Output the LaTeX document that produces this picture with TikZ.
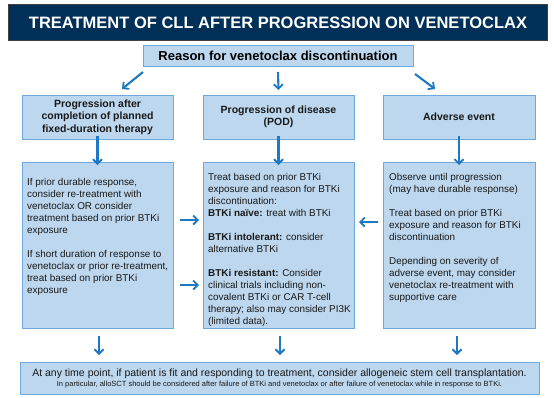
\documentclass[tikz,border=0pt]{standalone}
\usepackage{fontspec}
\setmainfont{Liberation Sans}
\usetikzlibrary{arrows.meta,calc}
\definecolor{boxfill}{HTML}{BDD7EE}
\definecolor{boxline}{HTML}{6FA8DC}
\definecolor{arrowc}{HTML}{1F78C1}
\definecolor{navy}{HTML}{003057}
\tikzset{
  box/.style={draw=boxline, fill=boxfill, line width=1pt, anchor=north west, inner sep=0pt, outer sep=0pt},
  arr/.style={draw=arrowc, line width=2.1pt, -{Straight Barb[length=4.5pt,width=9pt,line width=1.8pt]}},
  bodytext/.style={anchor=north west, inner sep=0pt, align=left, font=\fontsize{9.9}{12}\selectfont, text=black!90},
  headtext/.style={inner sep=0pt, align=center, font=\bfseries\fontsize{10.5}{12.3}\selectfont, text=black!90},
}
\begin{document}
\begin{tikzpicture}[x=1pt,y=-1pt]
\useasboundingbox (0,0) rectangle (554,397);
% title
\node[anchor=north west, draw=black!75, fill=navy, line width=1pt, minimum width=539pt, minimum height=36pt, inner sep=0pt, text=white, font=\bfseries\fontsize{16.5}{18}\selectfont] (title) at (8,4) {TREATMENT OF CLL AFTER PROGRESSION ON VENETOCLAX};
% reason
\node[box, minimum width=270pt, minimum height=21pt, font=\bfseries\fontsize{13}{14}\selectfont] (reason) at (143,45) {Reason for venetoclax discontinuation};
% top boxes
\node[box, minimum width=151pt, minimum height=44pt] (topL) at (22,95) {};
\node[box, minimum width=151pt, minimum height=44pt] (topM) at (203,95) {};
\node[box, minimum width=152pt, minimum height=44pt] (topR) at (383,95) {};
\node[headtext] (topLt) at (topL.center) {Progression after\\completion of planned\\fixed-duration therapy};
\node[headtext] (topMt) at (topM.center) {Progression of disease\\(POD)};
\node[headtext] (topRt) at (topR.center) {Adverse event};
% lower boxes
\node[box, minimum width=151pt, minimum height=166pt] (lowL) at (22,162) {};
\node[box, minimum width=151pt, minimum height=166pt] (lowM) at (203,162) {};
\node[box, minimum width=152pt, minimum height=166pt] (lowR) at (383,162) {};
\node[bodytext] (lowLt) at ([shift={(5,16)}]lowL.north west) {If prior durable response,\\consider re-treatment with\\venetoclax OR consider\\treatment based on prior BTKi\\exposure\\[12pt]If short duration of response to\\venetoclax or prior re-treatment,\\treat based on prior BTKi\\exposure};
\node[bodytext] (lowMt) at ([shift={(5,11)}]lowM.north west) {Treat based on prior BTKi\\exposure and reason for BTKi\\discontinuation:\\\textbf{BTKi naïve:} treat with BTKi\\[12pt]\textbf{BTKi intolerant:} consider\\alternative BTKi\\[12pt]\textbf{BTKi resistant:} Consider\\clinical trials including non-\\covalent BTKi or CAR T-cell\\therapy; also may consider PI3K\\(limited data).};
\node[bodytext] (lowRt) at ([shift={(6,11)}]lowR.north west) {Observe until progression\\(may have durable response)\\[12pt]Treat based on prior BTKi\\exposure and reason for BTKi\\discontinuation\\[12pt]Depending on severity of\\adverse event, may consider\\venetoclax re-treatment with\\supportive care};
% bottom box
\node[box, minimum width=519pt, minimum height=32pt] (bottom) at (20,362) {};
\node[inner sep=0pt, align=center, text=black!90] (bottomt) at ([yshift=0]bottom.center) {{\fontsize{10.5}{12}\selectfont At any time point, if patient is fit and responding to treatment, consider allogeneic stem cell transplantation.}\\[-2pt]{\fontsize{7.5}{8}\selectfont In particular, alloSCT should be considered after failure of BTKi and venetoclax or after failure of venetoclax while in response to BTKi.}};
% arrows
\draw[arr] ([shift={(0,6)}]reason.south west) -- ([shift={(100,-6)}]topL.north west);
\draw[arr] ([shift={(0,6)}]reason.south) -- ([shift={(0,-5)}]topM.north);
\draw[arr] ([shift={(2,8)}]reason.south east) -- ([shift={(52,-6)}]topR.north west);
\draw[arr] ([yshift=3]topL.south) -- ([yshift=-3]lowL.north);
\draw[arr] ([yshift=3]topM.south) -- ([yshift=-3]lowM.north);
\draw[arr] ([yshift=3]topR.south) -- ([yshift=-3]lowR.north);
\draw[arr] ([shift={(7,58)}]lowL.north east) -- ([shift={(-4,58)}]lowM.north west);
\draw[arr] ([shift={(7,123)}]lowL.north east) -- ([shift={(-4,123)}]lowM.north west);
\draw[arr] ([shift={(-5,60)}]lowR.north west) -- ([shift={(5,60)}]lowM.north east);
\draw[arr] ([shift={(1.5,8)}]lowL.south) -- ([shift={(1.5,-7)}]lowL.south |- bottom.north);
\draw[arr] ([shift={(1.5,8)}]lowM.south) -- ([shift={(1.5,-7)}]lowM.south |- bottom.north);
\draw[arr] ([shift={(-2,8)}]lowR.south) -- ([shift={(-2,-7)}]lowR.south |- bottom.north);
\end{tikzpicture}
\end{document}
